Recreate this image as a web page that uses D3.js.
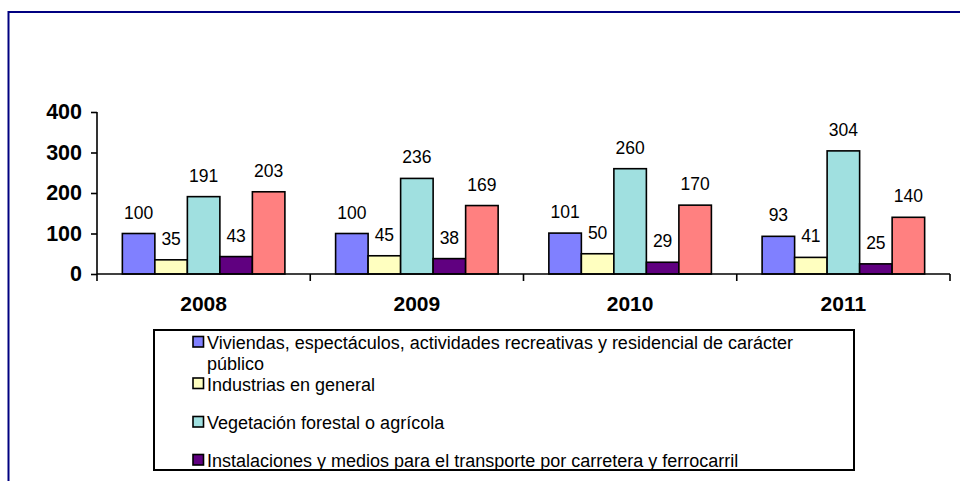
<!DOCTYPE html>
<html>
<head>
<meta charset="utf-8">
<script src="https://cdn.jsdelivr.net/npm/d3@7"></script>
<style>
  html, body { margin: 0; padding: 0; background: #fff; }
  svg { display: block; }
  text { font-family: "Liberation Sans", Arial, sans-serif; }
</style>
</head>
<body>
<svg id="chart" width="960" height="481"></svg>
<script>
const years = ["2008", "2009", "2010", "2011"];
const seriesNames = [
  "Viviendas, espectáculos, actividades recreativas y residencial de carácter público",
  "Industrias en general",
  "Vegetación forestal o agrícola",
  "Instalaciones y medios para el transporte por carretera y ferrocarril",
  "Otros"
];
const viviendas = [100, 100, 101, 93];
const industrias = [35, 45, 50, 41];
const vegetacion = [191, 236, 260, 304];
const instalaciones = [43, 38, 29, 25];
const otros = [203, 169, 170, 140];
const seriesValues = [viviendas, industrias, vegetacion, instalaciones, otros];
const colors = ["#8080FF", "#FFFFC0", "#A0E0E0", "#600080", "#FF8080"];
const yTicks = [0, 100, 200, 300, 400];
const legendLines = [
  ["Viviendas, espectáculos, actividades recreativas y residencial de carácter", "público"],
  ["Industrias en general"],
  ["Vegetación forestal o agrícola"],
  ["Instalaciones y medios para el transporte por carretera y ferrocarril"]
];

const svg = d3.select("#chart");

// outer navy frame
svg.append("rect")
  .attr("x", 8.5).attr("y", 12).attr("width", 1000).attr("height", 500)
  .attr("fill", "none").attr("stroke", "#000080").attr("stroke-width", 2);

const plotLeft = 97, plotRight = 950, plotTop = 112, plotBottom = 274;

const x0 = d3.scaleBand().domain(years).range([plotLeft, plotRight]).padding(0);
const x1 = d3.scaleBand().domain(d3.range(5)).range([0, x0.bandwidth()])
  .paddingInner(0).paddingOuter(0.78);
const y = d3.scaleLinear().domain([0, 400]).range([plotBottom, plotTop]);

const g = svg.append("g");

// bars
years.forEach((yr, i) => {
  const grp = g.append("g").attr("transform", `translate(${x0(yr)},0)`);
  seriesValues.forEach((vals, s) => {
    const v = vals[i];
    grp.append("rect")
      .attr("x", x1(s))
      .attr("y", y(v))
      .attr("width", x1.bandwidth())
      .attr("height", y(0) - y(v))
      .attr("fill", colors[s])
      .attr("stroke", "#000")
      .attr("stroke-width", 1.6);
    grp.append("text")
      .attr("x", x1(s) + x1.bandwidth() / 2)
      .attr("y", y(v) - 15)
      .attr("text-anchor", "middle")
      .attr("font-size", 17.5)
      .attr("fill", "#000")
      .text(v);
  });
});

// y axis
const yAxis = d3.axisLeft(y).tickValues(yTicks).tickSize(6).tickPadding(9);
const ya = svg.append("g").attr("transform", `translate(${plotLeft},0)`).call(yAxis);
ya.select(".domain").attr("stroke", "#000").attr("stroke-width", 1.6).attr("d", `M0,${plotTop}V${plotBottom}`);
ya.selectAll(".tick line").attr("stroke", "#000").attr("stroke-width", 1.6);
ya.selectAll(".tick text")
  .attr("font-family", "'Liberation Sans', Arial, sans-serif")
  .attr("font-size", 21.5).attr("font-weight", "bold").attr("fill", "#000");

// x axis
const xAxis = d3.axisBottom(x0).tickSize(0).tickPadding(22);
const xa = svg.append("g").attr("transform", `translate(0,${plotBottom})`).call(xAxis);
xa.select(".domain").attr("stroke", "#000").attr("stroke-width", 1.6).attr("d", `M${plotLeft},0H${plotRight}`);
xa.selectAll(".tick text")
  .attr("font-family", "'Liberation Sans', Arial, sans-serif")
  .attr("font-size", 21).attr("font-weight", "bold").attr("fill", "#000");
// category boundary ticks
const bounds = years.map(yr => x0(yr)).concat([plotRight]);
xa.selectAll(".bound").data(bounds).enter().append("line")
  .attr("x1", d => d).attr("x2", d => d).attr("y1", 0).attr("y2", 7)
  .attr("stroke", "#000").attr("stroke-width", 1.6);

// legend
const lg = svg.append("g");
lg.append("rect").attr("x", 154).attr("y", 330).attr("width", 700).attr("height", 140)
  .attr("fill", "#fff").attr("stroke", "#000").attr("stroke-width", 2);
const baselines = [349, 390.5, 429, 467];
legendLines.forEach((lines, i) => {
  lg.append("rect")
    .attr("x", 193).attr("y", baselines[i] - 12.5).attr("width", 10.5).attr("height", 10.5)
    .attr("fill", colors[i]).attr("stroke", "#000").attr("stroke-width", 1.6);
  const t = lg.append("text")
    .attr("x", 207).attr("y", baselines[i])
    .attr("font-size", 18).attr("fill", "#000");
  lines.forEach((ln, j) => {
    t.append("tspan")
      .attr("x", 207).attr("dy", j === 0 ? 0 : 20.7)
      .text(ln);
  });
});
</script>
</body>
</html>
